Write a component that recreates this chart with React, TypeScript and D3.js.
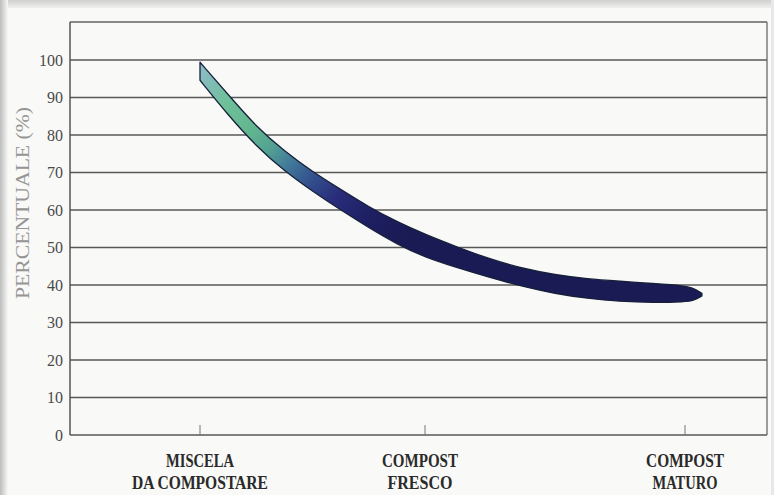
import React from "react";
import * as d3 from "d3";

const categories = ["MISCELA|DA COMPOSTARE", "COMPOST|FRESCO", "COMPOST|MATURO"];
const categoryPos = [0, 1, 2];
const yTicks = [0, 10, 20, 30, 40, 50, 60, 70, 80, 90, 100];
const bandX = [0, 0.125, 0.25, 0.375, 0.5, 0.625, 0.75, 0.875, 1.0, 1.125, 1.25, 1.375, 1.5, 1.625, 1.75, 1.875, 2.0, 2.035, 2.065];
const bandUpper = [99.4, 90.8, 82.2, 75.7, 70.2, 65.5, 60.8, 56.9, 53.5, 50.1, 46.9, 44.4, 42.7, 41.6, 41.0, 40.4, 39.8, 39.1, 37.8];
const bandLower = [94.6, 85.3, 77.0, 70.4, 65.0, 60.0, 55.3, 50.9, 47.4, 44.6, 42.0, 39.6, 37.7, 36.4, 35.6, 35.3, 35.5, 35.9, 37.1];
const yLabel = "PERCENTUALE (%)";

const W = 774;
const H = 495;
const left = 70;
const right = 767;
const frameTop = 22;

export default function App() {
  const x = d3.scaleLinear().domain([0, 1, 2]).range([200, 425, 685]);
  const y = d3.scaleLinear().domain([0, 100]).range([435, 60]);
  const topVal = y.invert(frameTop);

  const pts = bandX.map((v, i) => ({ x: v, u: bandUpper[i], l: bandLower[i] }));
  const area = d3
    .area<any>()
    .x((d) => x(d.x))
    .y0((d) => y(d.l))
    .y1((d) => y(d.u))
    .curve(d3.curveBasis);

  const serif = "'Liberation Serif', 'Times New Roman', serif";

  return (
    <svg
      width={W}
      height={H}
      style={{ position: "absolute", left: 0, top: 0, display: "block" }}
      xmlns="http://www.w3.org/2000/svg"
    >
      <defs>
        <linearGradient id="band" gradientUnits="userSpaceOnUse" x1={198} y1={60} x2={400} y2={240}>
          <stop offset="0" stopColor="#94bccb" />
          <stop offset="0.08" stopColor="#82bcb8" />
          <stop offset="0.18" stopColor="#6ec09a" />
          <stop offset="0.32" stopColor="#62b68e" />
          <stop offset="0.42" stopColor="#52a092" />
          <stop offset="0.5" stopColor="#437c9a" />
          <stop offset="0.6" stopColor="#34528e" />
          <stop offset="0.72" stopColor="#282c7a" />
          <stop offset="0.86" stopColor="#1e1f62" />
          <stop offset="1" stopColor="#1a1a55" />
        </linearGradient>
        <linearGradient id="leftShade" x1="0" x2="1" y1="0" y2="0">
          <stop offset="0" stopColor="#bdbdbd" />
          <stop offset="1" stopColor="#f8f8f6" />
        </linearGradient>
        <linearGradient id="topShade" x1="0" x2="0" y1="0" y2="1">
          <stop offset="0" stopColor="#cfcfcf" />
          <stop offset="1" stopColor="#efefed" />
        </linearGradient>
      </defs>
      <rect x={0} y={0} width={W} height={H} fill="#f9f9f7" />
      <rect x={0} y={0} width={W} height={8} fill="url(#topShade)" />
      <rect x={0} y={0} width={8} height={H} fill="url(#leftShade)" />
      <rect x={771} y={0} width={3} height={H} fill="#e8e8e6" />

      {/* y label */}
      <text
        transform={`translate(29, 203) rotate(-90)`}
        textAnchor="middle"
        fontFamily={serif}
        fontSize={19}
        fill="#959595"
        textLength={192}
        lengthAdjust="spacingAndGlyphs"
      >
        {yLabel}
      </text>

      {/* gridlines */}
      {yTicks.map((t) => (
        <line key={t} x1={left} x2={right} y1={y(t)} y2={y(t)} stroke="#3c3c3c" strokeWidth={1.6} opacity={0.85} />
      ))}
      <line x1={left} x2={right} y1={y(topVal)} y2={y(topVal)} stroke="#3c3c3c" strokeWidth={1.4} opacity={0.8} />
      <line x1={left} x2={left} y1={frameTop} y2={y(0)} stroke="#4a4a4a" strokeWidth={1.4} />
      <line x1={right} x2={right} y1={frameTop} y2={y(0)} stroke="#6a6a6a" strokeWidth={1.3} />

      {/* y tick labels */}
      {yTicks.map((t) => (
        <text
          key={"l" + t}
          x={63}
          y={y(t)}
          dy="0.35em"
          textAnchor="end"
          fontFamily={serif}
          fontSize={17}
          fill="#4a4a4a"
          textLength={t === 100 ? 24 : t === 0 ? 8 : 16}
          lengthAdjust="spacingAndGlyphs"
        >
          {t}
        </text>
      ))}

      {/* x ticks */}
      {categoryPos.map((p) => (
        <line key={"t" + p} x1={x(p)} x2={x(p)} y1={y(0)} y2={y(0) - 10} stroke="#777" strokeWidth={1} />
      ))}

      {/* category labels */}
      {categories.map((c, i) => {
        const lines = c.split("|");
        const widths = i === 0 ? [68, 136] : i === 1 ? [76, 65] : [78, 65];
        return (
          <g key={c}>
            {lines.map((ln, j) => (
              <text
                key={j}
                x={x(categoryPos[i]) - (i === 1 ? 5 : 0)}
                y={467 + j * 22}
                textAnchor="middle"
                fontFamily={serif}
                fontWeight="bold"
                fontSize={19}
                fill="#2a2a2a"
                textLength={widths[j]}
                lengthAdjust="spacingAndGlyphs"
              >
                {ln}
              </text>
            ))}
          </g>
        );
      })}

      {/* band */}
      <path d={area(pts) || ""} fill="url(#band)" stroke="#16203a" strokeWidth={1.3} strokeLinejoin="round" />
    </svg>
  );
}
